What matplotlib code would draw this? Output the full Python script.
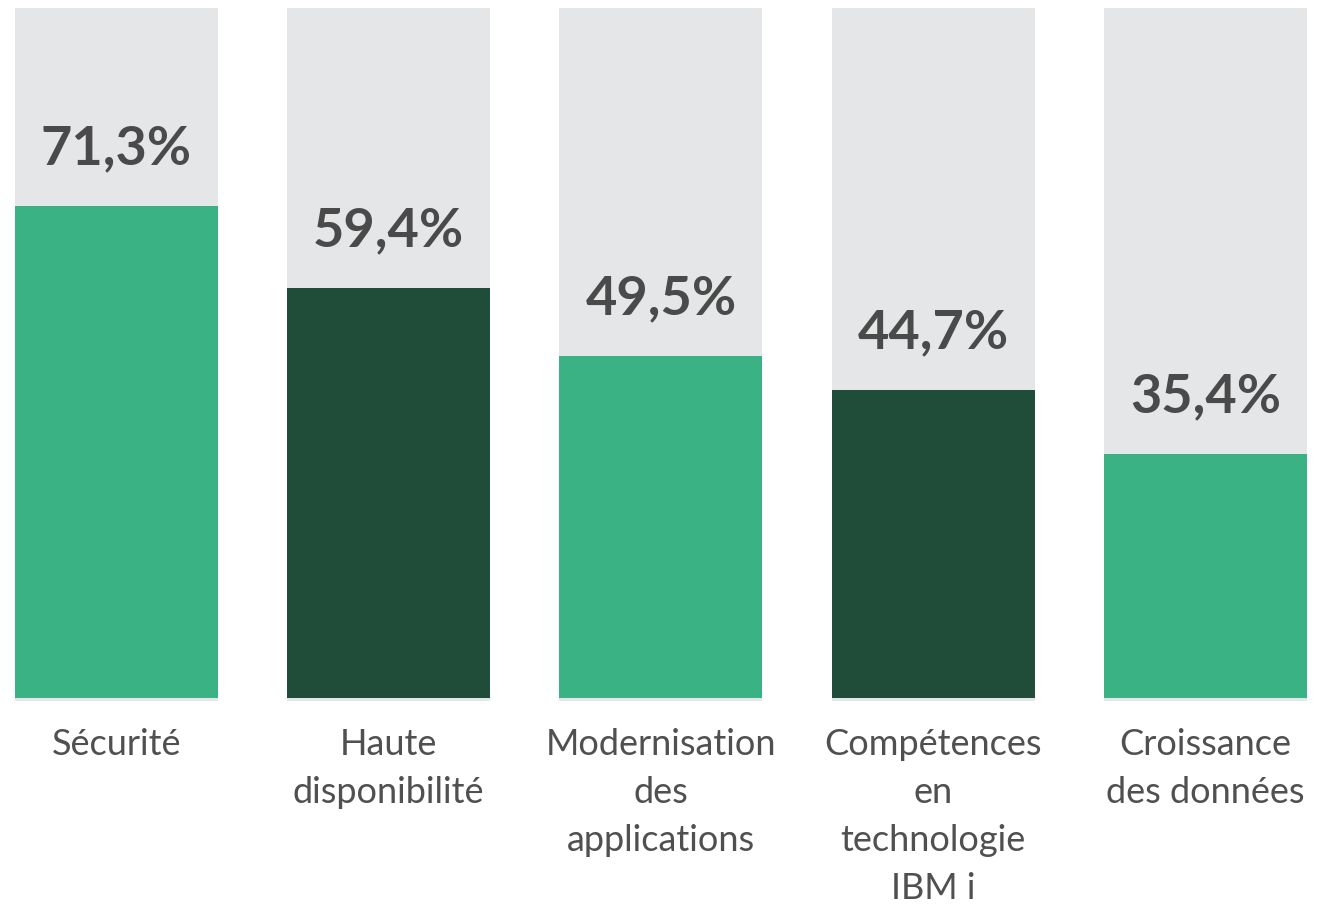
import matplotlib
matplotlib.use("Agg")
import matplotlib.pyplot as plt

categories = ["Sécurité", "Haute\ndisponibilité", "Modernisation\ndes\napplications",
              "Compétences\nen\ntechnologie\nIBM i", "Croissance\ndes données"]
values = [71.3, 59.4, 49.5, 44.7, 35.4]
value_labels = ["71,3%", "59,4%", "49,5%", "44,7%", "35,4%"]
bar_colors = ["#3bb284", "#1f4d39", "#3bb284", "#1f4d39", "#3bb284"]

fig = plt.figure(figsize=(13.17, 9.06), dpi=100)
ax = fig.add_axes([0, 0, 1, 1])
ax.set_xlim(-0.428, 4.410)
ax.set_ylim(-30.14, 101.16)
ax.axis("off")

x = list(range(len(values)))
w = 0.746
ax.bar(x, [100.45] * len(x), bottom=-0.45, width=w, color="#e5e6e8", zorder=1)
ax.bar(x, values, width=w, color=bar_colors, zorder=2)

for xi, v, lab in zip(x, values, value_labels):
    ax.text(xi, v + 8.3, lab, ha="center", va="center", fontsize=39,
            fontweight="bold", family="Lato", color="#4a4a4a", zorder=3)

for xi, c in zip(x, categories):
    ax.text(xi, -4.4, c, ha="center", va="top", fontsize=26, family="Lato",
            color="#505050", linespacing=1.55)

fig.savefig("out.png", dpi=100)
